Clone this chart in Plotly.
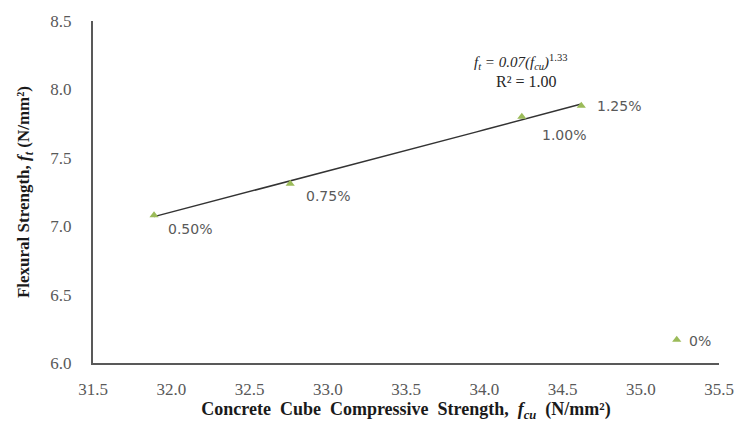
import numpy as np
import plotly.graph_objects as go

# Steel fibre content and measured strengths
fibre_labels = ["0.50%", "0.75%", "1.00%", "1.25%", "0%"]
cube_strength = [31.89, 32.76, 34.24, 34.62, 35.23]      # f_cu, N/mm²
flexural_strength = [7.08, 7.31, 7.80, 7.88, 6.17]        # f_t, N/mm²

x_ticks = [31.5, 32.0, 32.5, 33.0, 33.5, 34.0, 34.5, 35.0, 35.5]
y_ticks = [6.0, 6.5, 7.0, 7.5, 8.0, 8.5]

# Power trendline through the fibre-reinforced mixes
fit_x = np.array(cube_strength[:4])
fit_y = np.array(flexural_strength[:4])
b, log_a = np.polyfit(np.log(fit_x), np.log(fit_y), 1)
trend_x = np.linspace(fit_x.min(), fit_x.max(), 50)
trend_y = np.exp(log_a) * trend_x ** b

SERIF = "Liberation Serif, Times New Roman, serif"
SANS = "DejaVu Sans, Verdana, sans-serif"
GREY = "#595959"

fig = go.Figure()
fig.add_trace(go.Scatter(
    x=trend_x, y=trend_y, mode="lines",
    line=dict(color="#333333", width=1.5), hoverinfo="skip", showlegend=False,
))
fig.add_trace(go.Scatter(
    x=cube_strength, y=flexural_strength, mode="markers",
    marker=dict(symbol="triangle-up", size=8, color="#9BBB59"),
    showlegend=False,
))

# Data labels: fibre content beside each point
offsets = {
    "0.50%": (12, 14),
    "0.75%": (14, 12),
    "1.00%": (18, 18),
    "1.25%": (14, 0),
    "0%": (10, 1),
}
for lab, xv, yv in zip(fibre_labels, cube_strength, flexural_strength):
    dx, dy = offsets[lab]
    fig.add_annotation(
        x=xv, y=yv, xref="x", yref="y", text=lab, showarrow=False,
        xanchor="left", yanchor="middle", xshift=dx, yshift=-dy,
        font=dict(family=SANS, size=14, color=GREY),
    )

# Trendline equation
fig.add_annotation(
    x=34.23, y=8.2, xref="x", yref="y", showarrow=False,
    text="<i>f<sub>t</sub> = 0.07(f<sub>cu</sub>)</i><sup>1.33</sup>",
    font=dict(family=SERIF, size=15, color="#262626"),
)
fig.add_annotation(
    x=34.27, y=8.06, xref="x", yref="y", showarrow=False,
    text="R² = 1.00",
    font=dict(family=SERIF, size=16, color="#262626"),
)

fig.update_layout(
    width=746, height=430,
    margin=dict(l=93, r=23, t=16, b=67),
    paper_bgcolor="white", plot_bgcolor="white",
    font=dict(family=SERIF, color=GREY),
    xaxis=dict(
        range=[31.5, 35.5], tickvals=x_ticks,
        ticktext=[f"{v:.1f}" for v in x_ticks],
        showgrid=False, zeroline=False,
        showline=True, linecolor="#595959", linewidth=2,
        ticks="", ticklabelstandoff=10,
        tickfont=dict(family=SERIF, size=17, color=GREY),
        title=dict(
            text="<b>Concrete  Cube  Compressive  Strength,  <i>f<sub>cu</sub></i>  (N/mm²)</b>",
            font=dict(family=SERIF, size=18, color="#1a1a1a"), standoff=4,
        ),
    ),
    yaxis=dict(
        range=[6.0, 8.5], tickvals=y_ticks,
        ticktext=[f"{v:.1f}" for v in y_ticks],
        showgrid=False, zeroline=False,
        showline=True, linecolor="#595959", linewidth=2,
        ticks="", ticklabelstandoff=16,
        tickfont=dict(family=SERIF, size=17, color=GREY),
        title=dict(
            text="<b>Flexural Strength, <i>f<sub>t</sub></i> (N/mm²)</b>",
            font=dict(family=SERIF, size=17, color="#1a1a1a"), standoff=16,
        ),
    ),
)

fig.write_html("out.html")
